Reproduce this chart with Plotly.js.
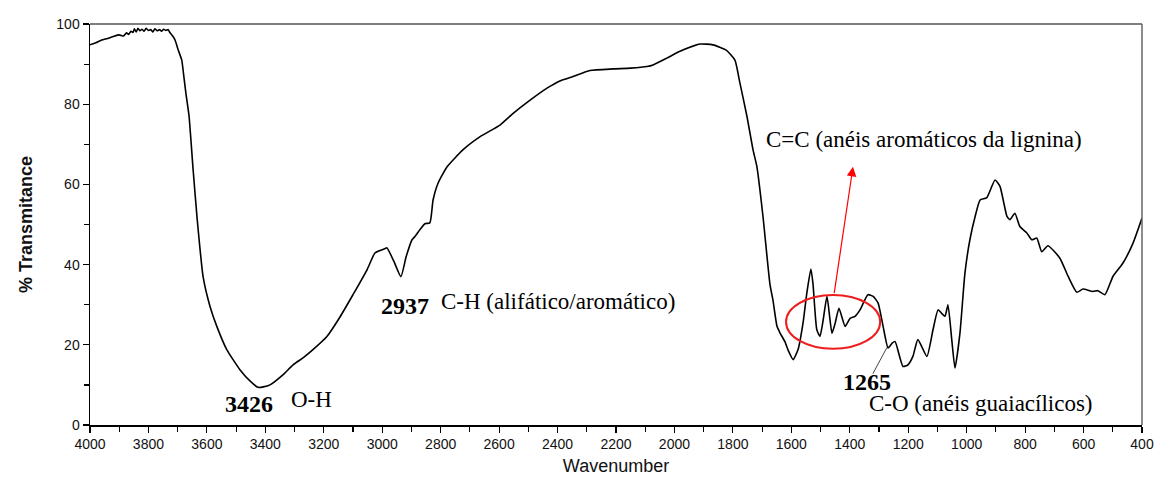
<!DOCTYPE html>
<html>
<head>
<meta charset="utf-8">
<script src="https://cdn.plot.ly/plotly-3.0.1.min.js"></script>
<style>html,body{margin:0;padding:0;background:#fff;}#chart{width:1155px;height:483px;}</style>
</head>
<body>
<div id="chart"></div>
<script>
const wavenumber = [4000,3980,3960,3940,3920,3900,3885,3875,3868,3860,3853,3848,3842,3836,3829,3822,3815,3808,3800,3792,3785,3778,3770,3762,3755,3748,3740,3733,3726,3717,3709,3698,3686,3679,3672,3661,3648,3634,3613,3589,3566,3532,3487,3450,3425,3407,3384,3340,3305,3270,3237,3190,3144,3100,3052,3025,3005,2990,2984,2960,2936,2918,2898,2888,2870,2854,2837,2826,2809,2778,2724,2665,2597,2552,2494,2436,2392,2347,2289,2210,2150,2094,2073,2026,1981,1913,1868,1823,1793,1776,1752,1731,1718,1697,1673,1663,1649,1639,1622,1610,1594,1577,1560,1547,1533,1526,1513,1502,1491,1478,1461,1450,1437,1416,1399,1382,1365,1338,1320,1303,1286,1269,1255,1245,1218,1201,1184,1167,1136,1115,1098,1081,1074,1064,1051,1040,1023,1006,989,971,954,931,903,886,862,852,835,818,794,777,760,743,722,681,653,623,602,568,551,527,499,465,431,400];
const transmittance = [94.8,95.3,96.0,96.4,96.9,97.3,97.0,97.8,97.4,98.2,97.9,98.8,98.0,98.9,98.3,98.7,98.2,98.9,98.4,98.6,98.0,98.8,98.3,98.6,98.2,98.7,98.4,98.6,97.8,97.0,96.0,93.5,91.0,87.0,82.8,77.0,64.5,52.0,37.0,29.5,24.6,18.8,13.8,10.8,9.4,9.5,10.0,12.5,15.0,16.8,18.8,22.0,27.0,32.5,38.7,42.9,43.6,44.0,44.2,40.8,37.0,42.0,46.2,47.0,48.8,50.2,50.4,56.1,60.3,64.4,68.6,71.9,74.8,77.7,81.0,84.0,85.8,86.9,88.4,88.8,89.0,89.4,89.8,91.5,93.2,95.0,94.8,93.5,91.0,85.3,77.0,68.6,64.5,52.0,35.0,31.2,24.6,23.0,20.8,18.5,16.3,18.8,25.4,32.9,38.9,35.3,23.8,22.1,26.2,32.1,22.9,25.4,29.1,24.6,26.6,27.1,28.7,32.5,32.1,30.4,24.6,19.2,20.4,20.8,14.6,15.0,17.1,21.3,17.1,23.8,28.7,27.5,27.1,30.0,21.3,14.2,22.9,37.8,46.2,52.0,56.1,56.7,61.1,59.5,52.0,51.2,52.8,49.5,47.9,46.2,46.6,43.2,44.7,41.6,37.1,33.1,33.9,33.3,33.5,32.5,37.1,40.4,45.3,51.6];

const xTickVals = [4000,3800,3600,3400,3200,3000,2800,2600,2400,2200,2000,1800,1600,1400,1200,1000,800,600,400];
const yTickVals = [0,20,40,60,80,100];

const serif = 'Liberation Serif, Times New Roman, serif';
const sans = 'Liberation Sans, Arial, sans-serif';
const labels = [
  {text:'<b>3426</b>', x:3541, y:5.3, size:24},
  {text:'O-H', x:3316, y:6.3, size:23},
  {text:'<b>2937</b>', x:3008, y:29.8, size:24},
  {text:'C-H (alifático/aromático)', x:2802, y:30.7, size:23},
  {text:'C=C (anéis aromáticos da lignina)', x:1690, y:71.1, size:23},
  {text:'<b>1265</b>', x:1427, y:10.8, size:24},
  {text:'C-O (anéis guaiacílicos)', x:1338, y:5.4, size:23}
];

const annotations = labels.map(l => ({
  text: l.text, x: l.x, y: l.y, xref:'x', yref:'y', xanchor:'left', yanchor:'middle',
  showarrow:false, borderpad:0, font:{family:serif, size:l.size, color:'#000'}
}));
annotations.push({
  x:1389, y:64.4, ax:1454, ay:32.5, xref:'x', yref:'y', axref:'x', ayref:'y',
  text:'', showarrow:true, arrowhead:2, arrowsize:1.6, arrowwidth:1.2, arrowcolor:'#ff0000'
});

const shapes = [
  {type:'circle', xref:'x', yref:'y', x0:1618, x1:1296, y0:19.0, y1:32.4, line:{color:'#ee1c1c', width:2}},
  {type:'line', xref:'x', yref:'y', x0:1321, y0:12.8, x1:1273, y1:19.3, line:{color:'#444', width:1}}
];

Plotly.newPlot('chart', [{
  x: wavenumber, y: transmittance, type:'scatter', mode:'lines',
  line:{color:'#000', width:1.6, shape:'spline', smoothing:0.5}, hoverinfo:'skip'
}], {
  width:1155, height:483,
  margin:{l:90, r:13, t:24, b:58},
  paper_bgcolor:'#fff', plot_bgcolor:'#fff',
  showlegend:false,
  xaxis:{
    range:[4000,400], tickvals:xTickVals, ticks:'outside', ticklen:6, tickwidth:1.2, tickcolor:'#000',
    minor:{dtick:100, ticks:'outside', ticklen:5, tickwidth:1.2, tickcolor:'#000'},
    showgrid:false, zeroline:false, showline:true, linecolor:'#000', linewidth:1.5, mirror:false,
    tickfont:{family:sans, size:14, color:'#111'},
    title:{text:'Wavenumber', font:{family:sans, size:18, color:'#111'}, standoff:8}
  },
  yaxis:{
    range:[0,100], tickvals:yTickVals, ticks:'outside', ticklen:6, tickwidth:1.2, tickcolor:'#000',
    minor:{dtick:10, ticks:'outside', ticklen:5, tickwidth:1.2, tickcolor:'#000'},
    showgrid:false, zeroline:false, showline:true, linecolor:'#000', linewidth:1.5, mirror:false,
    tickfont:{family:sans, size:14, color:'#111'},
    title:{text:'<b>% Transmitance</b>', font:{family:sans, size:18, color:'#111'}, standoff:19}
  },
  annotations: annotations,
  shapes: shapes.concat([
    {type:'line', xref:'paper', yref:'paper', x0:0, x1:1, y0:1, y1:1, line:{color:'#555', width:1.5}},
    {type:'line', xref:'paper', yref:'paper', x0:1, x1:1, y0:0, y1:1, line:{color:'#666', width:1.5}}
  ])
}, {staticPlot:true});
</script>
</body>
</html>
